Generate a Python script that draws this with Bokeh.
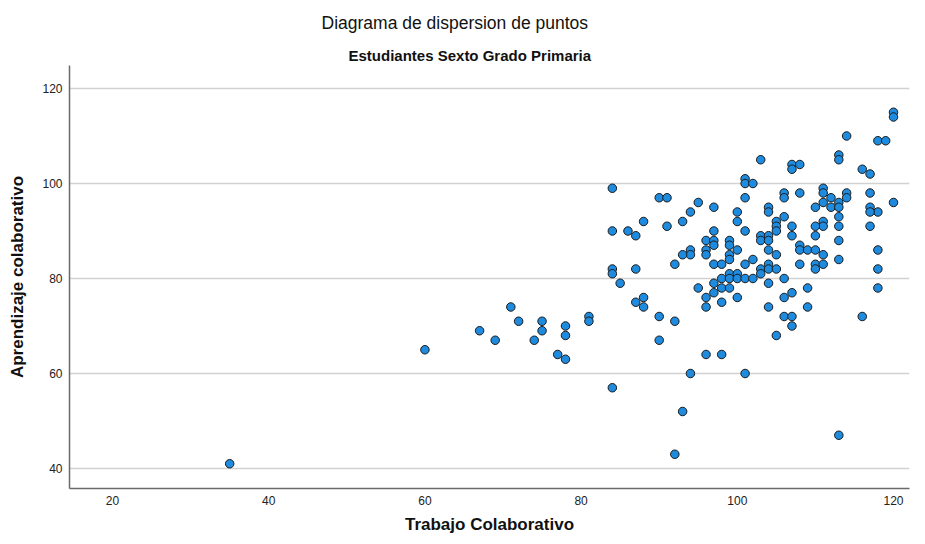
from bokeh.plotting import figure
from bokeh.models import Range1d, FixedTicker, ColumnDataSource, Title
from bokeh.embed import file_html
from bokeh.resources import INLINE

title_text = "Diagrama de dispersion de puntos"
subtitle_text = "Estudiantes Sexto Grado Primaria"
x_label = "Trabajo Colaborativo"
y_label = "Aprendizaje colaborativo"

x_ticks = [20, 40, 60, 80, 100, 120]
y_ticks = [40, 60, 80, 100, 120]

trabajo = [
    35, 60, 67, 69, 71, 72, 74, 75, 75, 77, 78, 78, 78, 81, 81,
    92, 90, 96, 98, 94, 101, 105, 107, 84, 93, 92, 113,
    84, 86, 87, 88, 91, 93, 94, 95, 94, 94, 93, 92, 84, 84, 87, 85, 95, 88, 87, 88, 90,
    84, 90, 91,
    103, 107, 107, 108, 101, 101, 102, 97, 101, 100, 104, 104, 106, 106, 108,
    120, 120, 114, 118, 119, 113, 113, 116, 117, 111, 111, 114, 114, 117, 112, 111, 113,
    110, 112, 113, 117, 118, 120, 117,
    113, 111, 111, 110, 113, 117, 110, 113, 108, 108, 109, 110, 111, 118, 113, 108, 110,
    110, 111, 118, 109, 118, 109, 116,
    100, 106, 105, 105, 105, 107, 107, 101, 103, 103, 104, 104, 96, 96, 96, 97, 97, 97,
    99, 99, 99, 99, 100, 104, 105, 97, 98, 101, 102, 104, 103, 103, 104, 105, 98, 99, 99,
    100, 100, 101, 102, 97, 104, 106, 98, 99, 97, 96, 100, 107, 106, 98, 96, 104, 106, 107,
]
aprendizaje = [
    41, 65, 69, 67, 74, 71, 67, 71, 69, 64, 70, 68, 63, 72, 71,
    71, 67, 64, 64, 60, 60, 68, 70, 57, 52, 43, 47,
    90, 90, 89, 92, 91, 92, 94, 96, 86, 85, 85, 83, 82, 81, 82, 79, 78, 76, 75, 74, 72,
    99, 97, 97,
    105, 104, 103, 104, 101, 100, 100, 95, 97, 94, 95, 94, 98, 97, 98,
    115, 114, 110, 109, 109, 106, 105, 103, 102, 99, 98, 98, 97, 98, 97, 96, 96,
    95, 95, 95, 95, 94, 96, 94,
    93, 92, 91, 91, 91, 91, 89, 88, 87, 86, 86, 86, 85, 86, 84, 83, 83,
    82, 83, 82, 78, 78, 74, 72,
    92, 93, 92, 91, 90, 91, 89, 90, 89, 88, 89, 88, 88, 86, 85, 90, 88, 87,
    88, 87, 85, 84, 86, 86, 85, 83, 83, 83, 84, 83, 82, 81, 82, 82, 80, 81, 80,
    81, 80, 80, 80, 79, 79, 80, 78, 78, 77, 76, 76, 77, 76, 75, 74, 74, 72, 72,
]

source = ColumnDataSource(data=dict(x=trabajo, y=aprendizaje))

FONT = "Liberation Sans"

p = figure(
    title=None,
    frame_width=840, frame_height=423,
    min_border_left=57, min_border_right=7, min_border_top=65, min_border_bottom=48,
    x_range=Range1d(14.49, 122.05), y_range=Range1d(35.79, 124.84),
    output_backend="svg", toolbar_location=None,
)
p.margin = (0, 0, 0, 5)
p.outline_line_color = None
p.background_fill_color = "white"
p.border_fill_color = "white"

p.xgrid.visible = False
p.ygrid.grid_line_color = "#d2d2d2"
p.ygrid.grid_line_width = 1.5

for ax in (p.xaxis[0], p.yaxis[0]):
    ax.major_tick_line_color = None
    ax.minor_tick_line_color = None
    ax.major_tick_out = 0
    ax.major_tick_in = 0
    ax.axis_line_color = "#6a6a6a"
    ax.axis_line_width = 1.5
    ax.major_label_text_font = FONT
    ax.major_label_text_font_size = "12px"
    ax.major_label_text_color = "#222222"
    ax.axis_label_text_font = FONT
    ax.axis_label_text_font_size = "17px"
    ax.axis_label_text_font_style = "bold"
    ax.axis_label_text_color = "#111111"

p.xaxis.ticker = FixedTicker(ticks=x_ticks)
p.yaxis.ticker = FixedTicker(ticks=y_ticks)
p.xaxis.axis_label = x_label
p.yaxis.axis_label = y_label
p.xaxis.major_label_standoff = 7
p.xaxis.axis_label_standoff = 7
p.yaxis.major_label_standoff = 7
p.yaxis.axis_label_standoff = 12

p.scatter("x", "y", source=source, size=8.5, fill_color="#1e8bdf",
          line_color="#1a1a1a", line_width=1)

sub = Title(text=subtitle_text, align="left", offset=279, standoff=2,
            vertical_align="middle", text_font=FONT, text_font_size="15px",
            text_font_style="bold", text_color="#111111")
main = Title(text=title_text, align="left", offset=252, standoff=21,
             vertical_align="middle", text_font=FONT, text_font_size="17.5px",
             text_font_style="normal", text_color="#111111")
p.add_layout(sub, "above")
p.add_layout(main, "above")

open("out.html", "w").write(file_html(p, INLINE))
